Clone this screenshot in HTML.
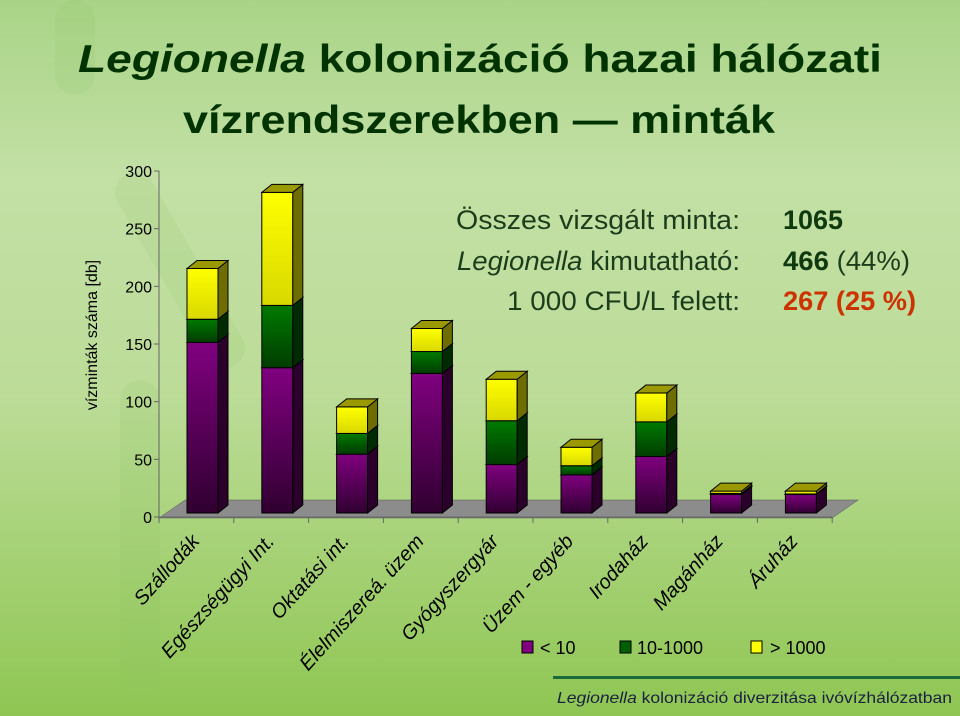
<!DOCTYPE html>
<html><head><meta charset="utf-8"><style>
html,body{margin:0;padding:0;}
body{width:960px;height:716px;overflow:hidden;font-family:"Liberation Sans",sans-serif;}
svg{display:block;}
</style></head><body>
<svg id="chart" width="960" height="716" viewBox="0 0 960 716" xmlns="http://www.w3.org/2000/svg" font-family="Liberation Sans, sans-serif">
<defs>
<linearGradient id="bg" x1="0" y1="0" x2="0" y2="1">
<stop offset="0" stop-color="#a9d487"/>
<stop offset="0.25" stop-color="#c3e0a5"/>
<stop offset="0.55" stop-color="#bcdc98"/>
<stop offset="1" stop-color="#8fc653"/>
</linearGradient>
<linearGradient id="gp" x1="0" y1="0" x2="0" y2="1"><stop offset="0" stop-color="#800080"/><stop offset="1" stop-color="#300030"/></linearGradient>
<linearGradient id="gg" x1="0" y1="0" x2="0" y2="1"><stop offset="0" stop-color="#007a00"/><stop offset="1" stop-color="#003c00"/></linearGradient>
<linearGradient id="gy" x1="0" y1="0" x2="0" y2="1"><stop offset="0" stop-color="#ffff00"/><stop offset="1" stop-color="#d8d800"/></linearGradient>
</defs>
<rect x="0" y="0" width="960" height="716" fill="url(#bg)"/>
<g fill="#8fc466" opacity="0.15">
<rect x="55" y="0" width="40" height="95" rx="20"/>
<rect x="120" y="380" width="40" height="320" rx="20"/>
<rect x="160" y="160" width="40" height="220" rx="20" transform="rotate(-30 180 270)"/>
</g>
<g fill="#003300" font-weight="bold" font-size="39" text-anchor="middle">
<text x="480" y="72" textLength="804" lengthAdjust="spacingAndGlyphs"><tspan font-style="italic">Legionella</tspan> kolonizáció hazai hálózati</text>
<text x="479" y="133" textLength="592" lengthAdjust="spacingAndGlyphs">vízrendszerekben — minták</text>
</g>
<text transform="translate(97,335) rotate(-90)" text-anchor="middle" font-size="16" fill="#000">vízminták száma [db]</text>
<g id="floor"></g>
<g id="axes"></g>
<g id="bars"></g>
<g id="xlabels"></g>
<g font-size="27" fill="#1b3d1b">
<text x="740" y="229" text-anchor="end" textLength="284" lengthAdjust="spacingAndGlyphs">Összes vizsgált minta:</text>
<text x="740" y="270" text-anchor="end" textLength="283" lengthAdjust="spacingAndGlyphs"><tspan font-style="italic">Legionella</tspan> kimutatható:</text>
<text x="740" y="310" text-anchor="end" textLength="233" lengthAdjust="spacingAndGlyphs">1 000 CFU/L felett:</text>
<text x="783" y="229" font-weight="bold" fill="#0f3a0f" textLength="60" lengthAdjust="spacingAndGlyphs">1065</text>
<text x="783" y="270" textLength="127" lengthAdjust="spacingAndGlyphs"><tspan font-weight="bold" fill="#0f3a0f">466</tspan> (44%)</text>
<text x="783" y="310" font-weight="bold" fill="#cc3300" textLength="133" lengthAdjust="spacingAndGlyphs">267 (25 %)</text>
</g>
<g font-size="18" fill="#000">
<g><rect x="522" y="641" width="11" height="12" fill="#800080" stroke="#000"/><text x="540" y="654">&lt; 10</text></g>
<g><rect x="620" y="641" width="11" height="12" fill="#006000" stroke="#000"/><text x="637" y="654">10-1000</text></g>
<g><rect x="751" y="641" width="11" height="12" fill="#ffff00" stroke="#000"/><text x="770" y="654">&gt; 1000</text></g>
</g>
<rect x="553" y="676" width="407" height="3" fill="#1a6a3a"/>
<text x="952" y="703" text-anchor="end" font-size="16" fill="#1a2040" textLength="395" lengthAdjust="spacingAndGlyphs"><tspan font-style="italic">Legionella</tspan> kolonizáció diverzitása ivóvízhálózatban</text>
</svg>
<script>
const categories = ["Szállodák","Egészségügyi Int.","Oktatási int.","Élelmiszereá. üzem","Gyógyszergyár","Üzem - egyéb","Irodaház","Magánház","Áruház"];
const lt10 = [148,126,51,121,42,33,49,16,16];
const mid = [20,54,18,19,38,8,30,1,0.5];
const gt1000 = [44,98,23,20,36,16,25,2,2.5];
const yTicks = [0,50,100,150,200,250,300];

const NS = "http://www.w3.org/2000/svg";
const Y0 = 517, SCALE = 346/300, BASE = 513;
const X0 = 159, STEP = 74.8, BW = 31, DX = 10, DY = 8;
function yAxis(v){ return Y0 - v*SCALE; }
function barY(v){ return BASE - v*SCALE; }
function xAxis(i){ return X0 + 28 + i*STEP; }
function mk(tag, attrs, parent){ const e=document.createElementNS(NS,tag); for(const k in attrs) e.setAttribute(k,attrs[k]); parent.appendChild(e); return e; }

const floor = document.getElementById('floor');
const fp = mk('polygon',{points:`${X0},518 ${X0+26},500 ${X0+26+STEP*categories.length},500 ${X0+STEP*categories.length},518`, fill:'#8c8c8c', stroke:'#555', 'stroke-width':0.5}, floor);



const axes = document.getElementById('axes');
const yl = mk('line',{x1:X0,y1:yAxis(300),x2:X0,y2:Y0,stroke:'#666','stroke-width':1},axes);


yTicks.forEach(v=>{
  const y=yAxis(v);
  mk('line',{x1:X0-5,y1:y,x2:X0,y2:y,stroke:'#666'},axes);
  const t=mk('text',{x:X0-7,y:y+6,'text-anchor':'end','font-size':16,fill:'#000'},axes);
  t.textContent=v;
  
  
});
const xl = mk('line',{x1:X0,y1:Y0,x2:X0+STEP*categories.length,y2:Y0,stroke:'#666'},axes);


for(let i=0;i<=categories.length;i++){ mk('line',{x1:X0+i*STEP,y1:Y0,x2:X0+i*STEP,y2:Y0+6,stroke:'#666'},axes); }

const bars = document.getElementById('bars');
function seg(x, v0, v1, front, side, top, name){
  if(v1<=v0) return;
  const yb=barY(v0), yt=barY(v1);
  const g=mk('g',{},bars);
  
  
  mk('rect',{x:x,y:yt,width:BW,height:yb-yt,fill:front,stroke:'#000','stroke-width':1},g);
  mk('polygon',{points:`${x+BW},${yb} ${x+BW+DX},${yb-DY} ${x+BW+DX},${yt-DY} ${x+BW},${yt}`,fill:side,stroke:'#000','stroke-width':1},g);
  mk('polygon',{points:`${x},${yt} ${x+DX},${yt-DY} ${x+BW+DX},${yt-DY} ${x+BW},${yt}`,fill:top,stroke:'#000','stroke-width':1},g);
}
categories.forEach((c,i)=>{
  const x=xAxis(i);
  const a=lt10[i], b=a+mid[i], t=b+gt1000[i];
  seg(x,0,a,'url(#gp)','#2a002a','#600060','bar-lt10-'+i);
  seg(x,a,b,'url(#gg)','#002a00','#005000','bar-mid-'+i);
  seg(x,b,t,'url(#gy)','#6e6e00','#9a9a00','bar-gt1000-'+i);
});

const xlabels = document.getElementById('xlabels');
categories.forEach((c,i)=>{
  const cx=xAxis(i)+BW/2-2, cy=542;
  const t=mk('text',{x:cx,y:cy,'text-anchor':'end','font-size':20,'font-style':'italic',fill:'#000',transform:`rotate(-48 ${cx} ${cy})`},xlabels);
  t.textContent=c;
  
  
});
</script>
</body></html>
